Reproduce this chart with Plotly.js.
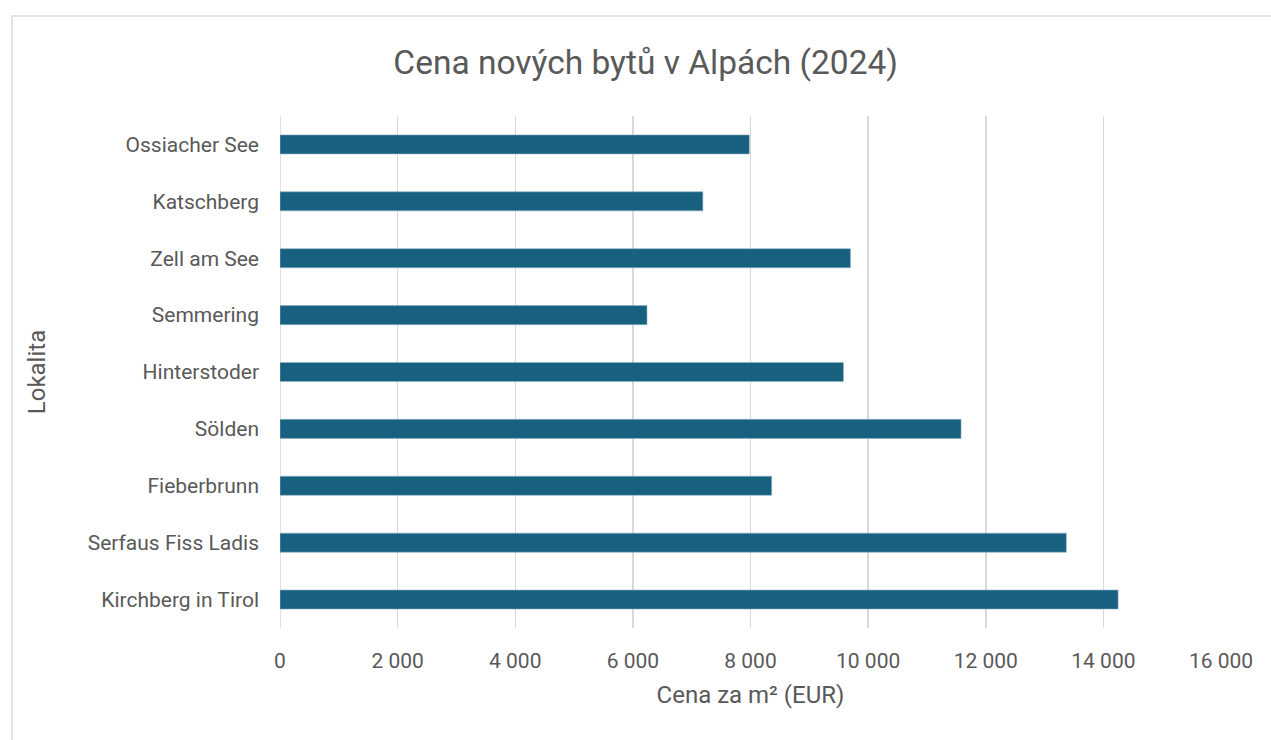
<!DOCTYPE html>
<html>
<head>
<meta charset="utf-8">
<script src="https://cdn.plot.ly/plotly-3.0.1.min.js"></script>
<style>
  html, body { margin: 0; padding: 0; background: #ffffff; overflow: hidden; }
  #frame { position: absolute; left: 11px; top: 15px; width: 1300px; height: 800px; border: 2px solid #e3e3e3; box-sizing: border-box; }
  #chart { position: absolute; left: 0; top: 0; width: 1271px; height: 740px; }
</style>
</head>
<body>
<div id="frame"></div>
<div id="chart"></div>
<script>
// Categories (listed bottom to top as drawn)
const locations = [
  "Kirchberg in Tirol",
  "Serfaus Fiss Ladis",
  "Fieberbrunn",
  "Sölden",
  "Hinterstoder",
  "Semmering",
  "Zell am See",
  "Katschberg",
  "Ossiacher See"
];
const pricePerM2 = [14250, 13370, 8360, 11580, 9580, 6240, 9700, 7190, 7980];
const tickValues = [0, 2000, 4000, 6000, 8000, 10000, 12000, 14000, 16000];

const titleText = "Cena nových bytů v Alpách (2024)";
const xTitle = "Cena za m² (EUR)";
const yTitle = "Lokalita";

const fontFamily = "Roboto, 'Open Sans', sans-serif";
const grey = "#595959";

const trace = {
  type: "bar",
  orientation: "h",
  y: locations,
  x: pricePerM2,
  marker: { color: "#17607f", line: { color: "#8fb3c4", width: 0.6 } },
  hoverinfo: "x+y"
};

const layout = {
  width: 1271,
  height: 740,
  paper_bgcolor: "rgba(0,0,0,0)",
  plot_bgcolor: "rgba(0,0,0,0)",
  margin: { l: 280, r: 50, t: 116, b: 112 },
  separators: ", ",
  bargap: 0.665,
  showlegend: false,
  font: { family: fontFamily, color: grey },
  title: {
    text: titleText,
    font: { family: fontFamily, size: 33.5, color: grey },
    x: 0.508, xanchor: "center",
    y: 0.916, yanchor: "middle"
  },
  xaxis: {
    range: [0, 16000],
    tickvals: tickValues,
    tickformat: ",d",
    showgrid: true,
    gridcolor: "#d9d9d9",
    gridwidth: 1.5,
    zeroline: false,
    showline: false,
    ticks: "",
    tickfont: { size: 21, color: grey },
    ticklabelstandoff: 18,
    title: { text: xTitle, font: { size: 24, color: grey }, standoff: 14 },
    fixedrange: true
  },
  yaxis: {
    type: "category",
    categoryorder: "array",
    categoryarray: locations,
    showgrid: false,
    zeroline: false,
    showline: false,
    ticks: "",
    ticklabelstandoff: 20,
    tickfont: { size: 21, color: grey },
    title: { text: yTitle, font: { size: 24, color: grey }, standoff: 35 },
    fixedrange: true
  },
  shapes: [
    { type: "line", xref: "x", yref: "paper", x0: 0, x1: 0, y0: 0, y1: 1,
      line: { color: "#d9d9d9", width: 1.5 }, layer: "below" }
  ]
};

Plotly.newPlot("chart", [trace], layout, { displayModeBar: false, staticPlot: true });
</script>
</body>
</html>
